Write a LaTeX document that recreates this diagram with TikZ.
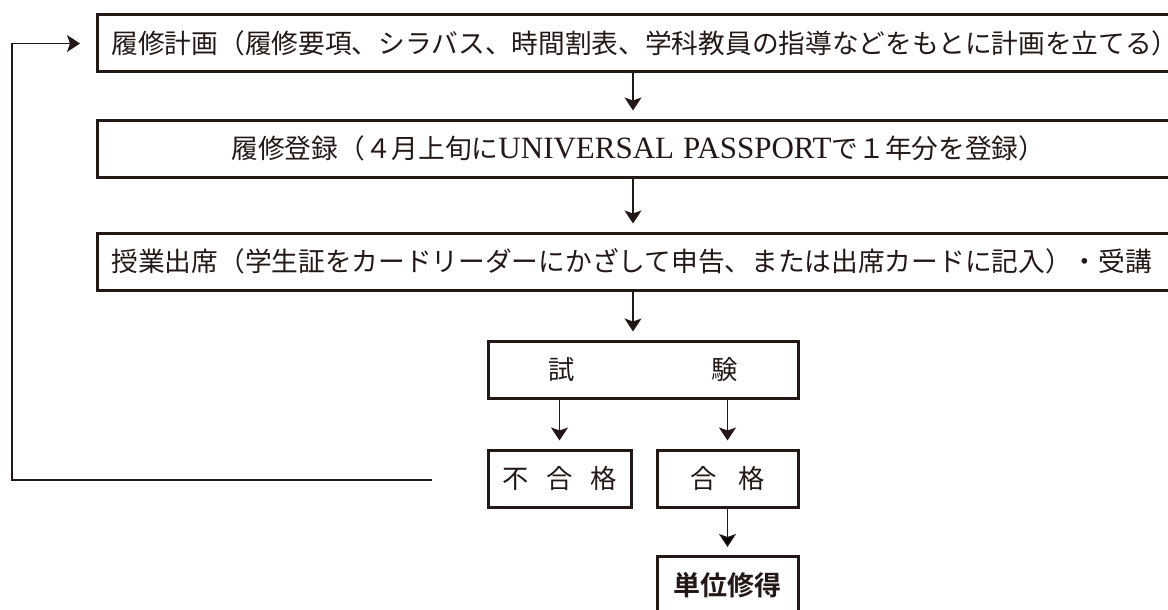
\documentclass[tikz,border=0pt]{standalone}
\usepackage{fontspec}
\setmainfont{Liberation Serif}
\newfontfamily\jpfont{Noto Sans CJK JP}[BoldFont={Noto Sans CJK JP Bold}]
\newfontfamily\latinserif{Liberation Serif}
\usetikzlibrary{arrows.meta}
\definecolor{inkblack}{RGB}{35,24,21}

\tikzset{
    stagebox/.style={draw=inkblack, text=inkblack, line width=3pt, rectangle, anchor=west,
        minimum height=57pt, text width=1092pt, inner xsep=14pt, align=left,
        font=\jpfont\fontsize{26.7pt}{30pt}\selectfont},
    resultbox/.style={draw=inkblack, text=inkblack, line width=3pt, rectangle,
        minimum height=57pt, inner sep=0pt,
        font=\jpfont\fontsize{26.3pt}{30pt}\selectfont},
    flow/.style={draw=inkblack, line width=1.3pt, -{Stealth[length=13pt, width=17pt, inset=3pt]},
        shorten >=8pt}
}

\begin{document}
\begin{tikzpicture}[x=1pt, y=-1pt]
    \useasboundingbox (0, 0) rectangle (1168, 610);
    \clip (0, 0) rectangle (1168, 610);

    \node[stagebox] at (96, 43.5) (plan) {履修計画（履修要項、シラバス、時間割表、学科教員の指導などをもとに計画を立てる）};
    \node[stagebox] at (96, 148.5) (register) {\hspace*{120pt}履修登録（４月上旬に{\latinserif\fontsize{31pt}{30pt}\selectfont UNIVERSAL PASSPORT}で１年分を登録）};
    \node[stagebox] at (96, 261.5) (attend) {授業出席（学生証をカードリーダーにかざして申告、または出席カードに記入）・受講};
    \node[resultbox, minimum width=310pt] at (643, 369.5) (exam) {試\hspace{137pt}験};
    \node[resultbox, minimum width=143pt] at (559.5, 478.5) (fail) {不\hspace{18pt}合\hspace{18pt}格};
    \node[resultbox, minimum width=141pt] at (727.5, 478.5) (pass) {合\hspace{22pt}格};
    \node[resultbox, minimum width=141pt, font=\jpfont\bfseries\fontsize{27pt}{30pt}\selectfont] at (727.5, 585) (unit) {単位修得};

    \coordinate (axis) at (633, 0);
    \coordinate (retstart) at (432, 480);
    \coordinate (retcorner) at (12, 480);

    \draw[flow] (plan.south -| axis) -- (register.north -| axis);
    \draw[flow] (register.south -| axis) -- (attend.north -| axis);
    \draw[flow] (attend.south -| axis) -- (exam.north -| axis);
    \draw[flow] (exam.south -| fail) -- (fail);
    \draw[flow] (exam.south -| pass) -- (pass);
    \draw[flow] (pass) edge (unit);
    \draw[flow, shorten >=16pt] (retstart) -- (retcorner) |- (plan.west);
\end{tikzpicture}
\end{document}
